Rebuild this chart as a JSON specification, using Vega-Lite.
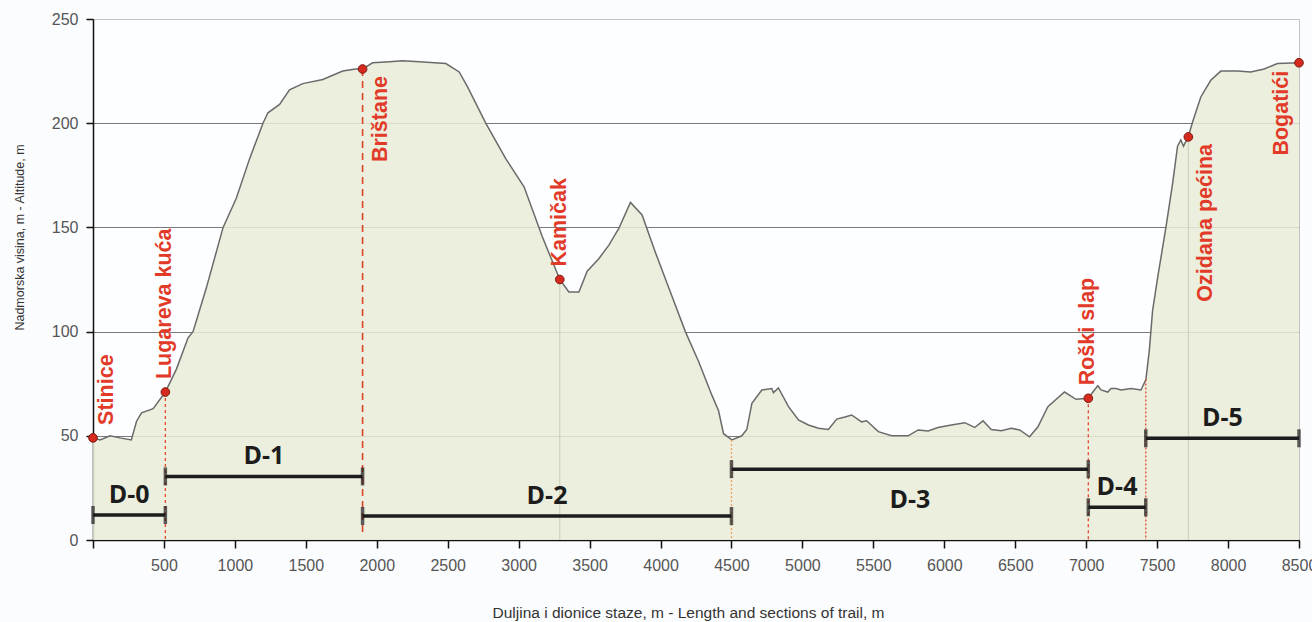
{
  "$schema": "https://vega.github.io/schema/vega-lite/v6.json",
  "autosize": {"type": "none"},
  "padding": {"left": 93, "top": 19, "right": 13, "bottom": 82},
  "width": 1206,
  "height": 521,
  "background": "#fbfcfd",
  "view": {"stroke": "#c4c4c4", "strokeWidth": 1, "fill": "#fdfeff"},
  "config": {
    "font": "Liberation Sans",
    "axis": {"labelFont": "Liberation Sans", "titleFont": "Liberation Sans"}
  },
  "datasets": {
    "profile": [
      {"dist": 0, "alt": 49}, {"dist": 50, "alt": 48}, {"dist": 120, "alt": 50}, {"dist": 190, "alt": 49},
      {"dist": 270, "alt": 48}, {"dist": 307, "alt": 57}, {"dist": 342, "alt": 61}, {"dist": 424, "alt": 63},
      {"dist": 510, "alt": 71}, {"dist": 588, "alt": 82}, {"dist": 670, "alt": 97}, {"dist": 705, "alt": 100},
      {"dist": 799, "alt": 121}, {"dist": 917, "alt": 150}, {"dist": 1010, "alt": 164}, {"dist": 1104, "alt": 183},
      {"dist": 1198, "alt": 200}, {"dist": 1233, "alt": 205}, {"dist": 1315, "alt": 209}, {"dist": 1385, "alt": 216},
      {"dist": 1479, "alt": 219}, {"dist": 1620, "alt": 221}, {"dist": 1760, "alt": 225}, {"dist": 1850, "alt": 226},
      {"dist": 1900, "alt": 226}, {"dist": 1970, "alt": 229}, {"dist": 2090, "alt": 229.5}, {"dist": 2182, "alt": 230},
      {"dist": 2300, "alt": 229.5}, {"dist": 2487, "alt": 228.6}, {"dist": 2581, "alt": 224.6}, {"dist": 2640, "alt": 217.4},
      {"dist": 2768, "alt": 200}, {"dist": 2909, "alt": 183}, {"dist": 3038, "alt": 169.5}, {"dist": 3167, "alt": 145.5},
      {"dist": 3290, "alt": 125}, {"dist": 3354, "alt": 119}, {"dist": 3425, "alt": 119}, {"dist": 3483, "alt": 129},
      {"dist": 3565, "alt": 135}, {"dist": 3636, "alt": 141.5}, {"dist": 3706, "alt": 149.5}, {"dist": 3788, "alt": 162},
      {"dist": 3870, "alt": 156}, {"dist": 3964, "alt": 138}, {"dist": 4058, "alt": 121}, {"dist": 4175, "alt": 100},
      {"dist": 4269, "alt": 85.5}, {"dist": 4362, "alt": 69.5}, {"dist": 4409, "alt": 62}, {"dist": 4444, "alt": 51},
      {"dist": 4503, "alt": 48}, {"dist": 4573, "alt": 50}, {"dist": 4608, "alt": 53}, {"dist": 4644, "alt": 65.6},
      {"dist": 4714, "alt": 72}, {"dist": 4784, "alt": 72.7}, {"dist": 4796, "alt": 70.7}, {"dist": 4831, "alt": 73},
      {"dist": 4902, "alt": 64}, {"dist": 4972, "alt": 57.6}, {"dist": 5042, "alt": 55.2}, {"dist": 5113, "alt": 53.6},
      {"dist": 5183, "alt": 53}, {"dist": 5242, "alt": 58}, {"dist": 5300, "alt": 59}, {"dist": 5347, "alt": 60},
      {"dist": 5417, "alt": 56.7}, {"dist": 5453, "alt": 57.2}, {"dist": 5535, "alt": 52}, {"dist": 5628, "alt": 50},
      {"dist": 5745, "alt": 50}, {"dist": 5816, "alt": 52.8}, {"dist": 5886, "alt": 52.3}, {"dist": 5956, "alt": 54},
      {"dist": 6050, "alt": 55.2}, {"dist": 6144, "alt": 56.3}, {"dist": 6214, "alt": 54}, {"dist": 6273, "alt": 57.2},
      {"dist": 6331, "alt": 53}, {"dist": 6402, "alt": 52.4}, {"dist": 6472, "alt": 53.6}, {"dist": 6531, "alt": 52.8},
      {"dist": 6601, "alt": 49.5}, {"dist": 6660, "alt": 54.3}, {"dist": 6730, "alt": 64}, {"dist": 6847, "alt": 71},
      {"dist": 6929, "alt": 67.5}, {"dist": 7015, "alt": 68}, {"dist": 7058, "alt": 72}, {"dist": 7082, "alt": 74},
      {"dist": 7105, "alt": 72}, {"dist": 7152, "alt": 71}, {"dist": 7175, "alt": 72.7}, {"dist": 7210, "alt": 72.7},
      {"dist": 7246, "alt": 72}, {"dist": 7316, "alt": 72.7}, {"dist": 7386, "alt": 72}, {"dist": 7421, "alt": 77},
      {"dist": 7445, "alt": 91}, {"dist": 7468, "alt": 110}, {"dist": 7504, "alt": 126}, {"dist": 7562, "alt": 150},
      {"dist": 7609, "alt": 171}, {"dist": 7644, "alt": 189}, {"dist": 7667, "alt": 192}, {"dist": 7686, "alt": 189},
      {"dist": 7719, "alt": 193.4}, {"dist": 7750, "alt": 200.6}, {"dist": 7808, "alt": 212.6}, {"dist": 7878, "alt": 220.6},
      {"dist": 7949, "alt": 225}, {"dist": 8066, "alt": 225}, {"dist": 8160, "alt": 224.6}, {"dist": 8254, "alt": 226},
      {"dist": 8348, "alt": 228.6}, {"dist": 8500, "alt": 229}
    ],
    "places": [
      {"name": "Stinice", "dist": 0, "alt": 49},
      {"name": "Lugareva kuća", "dist": 510, "alt": 71},
      {"name": "Brištane", "dist": 1900, "alt": 226},
      {"name": "Kamičak", "dist": 3290, "alt": 125},
      {"name": "Roški slap", "dist": 7015, "alt": 68},
      {"name": "Ozidana pećina", "dist": 7720, "alt": 193.4},
      {"name": "Bogatići", "dist": 8500, "alt": 229}
    ],
    "boundaries": [
      {"dist": 4500, "alt": 48},
      {"dist": 7420, "alt": 77}
    ],
    "sections": [
      {"section": "D-0", "start": 0, "end": 510, "level": 12},
      {"section": "D-1", "start": 510, "end": 1900, "level": 30.5},
      {"section": "D-2", "start": 1900, "end": 4500, "level": 11.5},
      {"section": "D-3", "start": 4500, "end": 7015, "level": 34},
      {"section": "D-4", "start": 7015, "end": 7420, "level": 15.7},
      {"section": "D-5", "start": 7420, "end": 8500, "level": 48.8}
    ]
  },
  "encoding": {
    "x": {
      "type": "quantitative",
      "scale": {"domain": [0, 8500], "nice": false},
      "axis": {
        "values": [0, 500, 1000, 1500, 2000, 2500, 3000, 3500, 4000, 4500, 5000, 5500, 6000, 6500, 7000, 7500, 8000, 8500],
        "labelExpr": "datum.value === 0 ? '' : datum.label",
        "format": "d",
        "grid": false,
        "labelFontSize": 16, "labelColor": "#555555", "labelPadding": 9,
        "labelFlush": false, "labelOverlap": false, "labelBound": false,
        "tickColor": "#111111", "tickSize": 8, "tickWidth": 1.5,
        "domainColor": "#111111", "domainWidth": 1.5,
        "title": "Duljina i dionice staze, m - Length and sections of trail, m",
        "titleFontSize": 15.5, "titleFontWeight": "normal", "titleColor": "#333333",
        "titleX": 595, "titleY": 72, "titleAlign": "center", "titleBaseline": "middle"
      }
    },
    "y": {
      "type": "quantitative",
      "scale": {"domain": [0, 250], "nice": false},
      "axis": {
        "values": [0, 50, 100, 150, 200, 250],
        "grid": true,
        "gridColor": {"condition": {"test": "datum.value === 250", "value": "#c4c4c4"}, "value": "#7a7a7a"},
        "gridWidth": 1,
        "labelFontSize": 16, "labelColor": "#555555", "labelPadding": 8,
        "tickColor": "#111111", "tickSize": 7, "tickWidth": 1.5,
        "domainColor": "#111111", "domainWidth": 1.5,
        "title": "Nadmorska visina, m - Altitude, m",
        "titleFontSize": 12.5, "titleFontWeight": "normal", "titleColor": "#333333",
        "titleX": -74, "titleY": 218, "titleAngle": 270, "titleAlign": "center", "titleBaseline": "middle"
      }
    }
  },
  "layer": [
    {
      "data": {"name": "profile"},
      "mark": {"type": "area", "fill": "#e9ecd7", "fillOpacity": 0.86, "line": {"color": "#6a6a6a", "strokeWidth": 1.5}},
      "encoding": {
        "x": {"field": "dist"},
        "y": {"field": "alt"}
      }
    },
    {
      "data": {"name": "places"},
      "transform": [{"filter": "datum.name === 'Kamičak' || datum.name === 'Ozidana pećina'"}],
      "mark": {"type": "rule", "color": "#c9ccbb", "strokeWidth": 1},
      "encoding": {
        "x": {"field": "dist"},
        "y": {"field": "alt"},
        "y2": {"datum": 0}
      }
    },
    {
      "data": {"name": "places"},
      "transform": [{"filter": "datum.name === 'Brištane'"}],
      "mark": {"type": "rule", "color": "#e0412c", "strokeWidth": 1.6, "strokeDash": [7, 5]},
      "encoding": {
        "x": {"field": "dist"},
        "y": {"field": "alt"},
        "y2": {"datum": 3}
      }
    },
    {
      "data": {"name": "places"},
      "transform": [{"filter": "datum.name === 'Lugareva kuća' || datum.name === 'Roški slap'"}],
      "mark": {"type": "rule", "color": "#e4482e", "strokeWidth": 1.3, "strokeDash": [3, 3]},
      "encoding": {
        "x": {"field": "dist"},
        "y": {"field": "alt"},
        "y2": {"datum": 0}
      }
    },
    {
      "data": {"name": "boundaries"},
      "transform": [{"filter": "datum.dist === 4500"}],
      "mark": {"type": "rule", "color": "#f0a06a", "strokeWidth": 1.3, "strokeDash": [2, 2]},
      "encoding": {
        "x": {"field": "dist"},
        "y": {"field": "alt"},
        "y2": {"datum": 0}
      }
    },
    {
      "data": {"name": "boundaries"},
      "transform": [{"filter": "datum.dist === 7420"}],
      "mark": {"type": "rule", "color": "#e4482e", "strokeWidth": 1.3, "strokeDash": [2, 2]},
      "encoding": {
        "x": {"field": "dist"},
        "y": {"field": "alt"},
        "y2": {"datum": 0}
      }
    },
    {
      "data": {"name": "sections"},
      "mark": {"type": "rule", "color": "#1c1c1c", "strokeWidth": 3.5},
      "encoding": {
        "x": {"field": "start"},
        "x2": {"field": "end"},
        "y": {"field": "level"}
      }
    },
    {
      "data": {"name": "sections"},
      "transform": [{"fold": ["start", "end"], "as": ["side", "pos"]}],
      "mark": {"type": "tick", "orient": "vertical", "color": "#1c1c1c", "thickness": 3.5, "size": 18},
      "encoding": {
        "x": {"field": "pos"},
        "y": {"field": "level"}
      }
    },
    {
      "data": {"name": "sections"},
      "transform": [
        {"filter": "datum.section !== 'D-3'"},
        {"fold": ["start", "end"], "as": ["side", "pos"]},
        {"aggregate": [{"op": "mean", "field": "pos", "as": "mid"}], "groupby": ["section", "level"]}
      ],
      "mark": {"type": "text", "font": "Open Sans", "fontWeight": "bold", "fontSize": 25, "color": "#1c1c1c", "baseline": "middle", "align": "center", "dy": -20},
      "encoding": {
        "x": {"field": "mid"},
        "y": {"field": "level"},
        "text": {"field": "section"}
      }
    },
    {
      "data": {"name": "sections"},
      "transform": [
        {"filter": "datum.section === 'D-3'"},
        {"fold": ["start", "end"], "as": ["side", "pos"]},
        {"aggregate": [{"op": "mean", "field": "pos", "as": "mid"}], "groupby": ["section", "level"]}
      ],
      "mark": {"type": "text", "font": "Open Sans", "fontWeight": "bold", "fontSize": 25, "color": "#1c1c1c", "baseline": "middle", "align": "center", "dy": 31},
      "encoding": {
        "x": {"field": "mid"},
        "y": {"field": "level"},
        "text": {"field": "section"}
      }
    },
    {
      "data": {"name": "places"},
      "mark": {"type": "point", "filled": true, "fill": "#d52b1e", "stroke": "#7d1a10", "strokeWidth": 1, "size": 75, "opacity": 1},
      "encoding": {
        "x": {"field": "dist"},
        "y": {"field": "alt"}
      }
    },
    {
      "data": {"name": "places"},
      "transform": [{"filter": "datum.name === 'Lugareva kuća' || datum.name === 'Kamičak' || datum.name === 'Roški slap'"}],
      "mark": {"type": "text", "angle": 270, "align": "left", "baseline": "middle", "dx": 13, "dy": 0, "fontSize": 21.5, "fontWeight": "bold", "color": "#e23a28"},
      "encoding": {
        "x": {"field": "dist"},
        "y": {"field": "alt"},
        "text": {"field": "name"}
      }
    },
    {
      "data": {"name": "places"},
      "transform": [{"filter": "datum.name === 'Stinice'"}],
      "mark": {"type": "text", "angle": 270, "align": "left", "baseline": "middle", "dx": 13, "dy": 14, "fontSize": 21.5, "fontWeight": "bold", "color": "#e23a28"},
      "encoding": {
        "x": {"field": "dist"},
        "y": {"field": "alt"},
        "text": {"field": "name"}
      }
    },
    {
      "data": {"name": "places"},
      "transform": [{"filter": "datum.name === 'Brištane' || datum.name === 'Ozidana pećina'"}],
      "mark": {"type": "text", "angle": 270, "align": "right", "baseline": "middle", "dx": -7, "dy": 18, "fontSize": 21.5, "fontWeight": "bold", "color": "#e23a28"},
      "encoding": {
        "x": {"field": "dist"},
        "y": {"field": "alt"},
        "text": {"field": "name"}
      }
    },
    {
      "data": {"name": "places"},
      "transform": [{"filter": "datum.name === 'Bogatići'"}],
      "mark": {"type": "text", "angle": 270, "align": "right", "baseline": "middle", "dx": -8, "dy": -17, "fontSize": 21.5, "fontWeight": "bold", "color": "#e23a28"},
      "encoding": {
        "x": {"field": "dist"},
        "y": {"field": "alt"},
        "text": {"field": "name"}
      }
    }
  ]
}
